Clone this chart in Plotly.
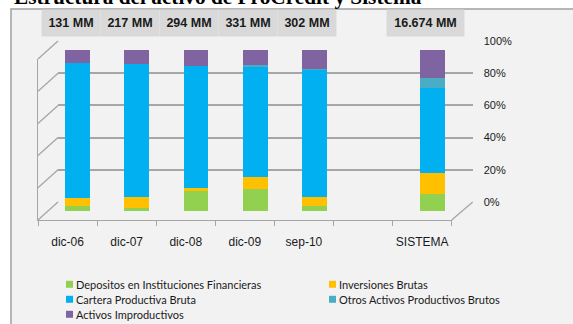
import plotly.graph_objects as go

W, H = 573, 324

categories = ["dic-06", "dic-07", "dic-08", "dic-09", "sep-10", " ", "SISTEMA"]
totals = ["131 MM", "217 MM", "294 MM", "331 MM", "302 MM", None, "16.674 MM"]

series_names = [
    "Depositos en Instituciones Financieras",
    "Inversiones Brutas",
    "Cartera Productiva Bruta",
    "Otros Activos Productivos Brutos",
    "Activos Improductivos",
]
series_colors = ["#92d050", "#ffc000", "#00b0f0", "#4bacc6", "#8064a2"]

depositos = [3.0, 2.0, 12.5, 13.6, 3.0, None, 10.5]
inversiones = [5.0, 7.0, 1.7, 7.8, 6.0, None, 13.0]
cartera = [84.0, 82.0, 76.0, 68.6, 79.0, None, 53.0]
otros = [0.0, 0.0, 0.0, 0.5, 0.5, None, 6.0]
improductivos = [8.0, 9.0, 9.8, 9.5, 11.5, None, 17.5]
series_values = [depositos, inversiones, cartera, otros, improductivos]

y_ticks = [0, 20, 40, 60, 80, 100]
y_ticktext = ["0%", "20%", "40%", "60%", "80%", "100%"]


def X(px):
    return px / W


def Y(py):
    return 1 - py / H


GRID = "#a6a6a6"
FONT = "Liberation Sans"
TXT = "#1a1a1a"

fig = go.Figure()

# back wall subplot (gridlines + right labels)
fig.add_trace(go.Scatter(x=[0.5], y=[0], mode="markers", marker=dict(opacity=0),
                         hoverinfo="skip", showlegend=False, xaxis="x", yaxis="y"))
# front plane subplot (floor line, category labels)
fig.add_trace(go.Scatter(x=categories, y=[0] * len(categories), mode="markers",
                         marker=dict(opacity=0), hoverinfo="skip", showlegend=False,
                         xaxis="x2", yaxis="y2"))
# bars (middle plane)
for name, color, vals in zip(series_names, series_colors, series_values):
    fig.add_trace(go.Bar(x=categories, y=vals, name=name, marker_color=color,
                         marker_line_width=0, width=0.42, showlegend=False,
                         xaxis="x3", yaxis="y3"))

shapes = []
# frame
shapes.append(dict(type="rect", xref="paper", yref="paper", x0=X(11), y0=Y(9), x1=1.02, y1=-0.02,
                   fillcolor="#f2f2f2", line=dict(color="#a0a0a0", width=1.5), layer="below"))
# left wall connectors
for v in y_ticks:
    yf = 220 - v / 100 * 161
    yb = 202 - v / 100 * 161
    shapes.append(dict(type="line", xref="paper", yref="paper", x0=X(38), y0=Y(yf), x1=X(58), y1=Y(yb),
                       line=dict(color=GRID, width=1.3), layer="below"))
# right floor diagonal
shapes.append(dict(type="line", xref="paper", yref="paper", x0=X(451.7), y0=Y(220), x1=X(472.7), y1=Y(202),
                   line=dict(color=GRID, width=1.3), layer="below"))

annotations = []
# title (cut off at top)
annotations.append(dict(text="<b>Estructura del activo de ProCredit y Sistema</b>", xref="paper", yref="paper",
                        x=X(12), y=Y(-3.3), xanchor="left", yanchor="middle", showarrow=False,
                        font=dict(family="Liberation Serif", size=21.3, color="#000000")))
# total labels in gray boxes
for cat, txt in zip(categories, totals):
    if txt is None:
        continue
    w = 77 if len(txt) > 6 else 58
    annotations.append(dict(text="<b>" + txt + "</b>", xref="x2", yref="paper", x=cat, y=Y(23),
                            xshift=3, yanchor="middle", showarrow=False, bgcolor="#d9d9d9",
                            width=w, height=26, borderpad=0,
                            font=dict(family=FONT, size=12.5, color=TXT)))
# custom legend
for i, (name, color) in enumerate(zip(series_names, series_colors)):
    col, row = i % 2, i // 2
    sx = [66, 329][col]
    sy = 284.3 + row * 15
    shapes.append(dict(type="rect", xref="paper", yref="paper", x0=X(sx), x1=X(sx + 7),
                       y0=Y(sy - 3.5), y1=Y(sy + 3.5), fillcolor=color, line=dict(width=0)))
    annotations.append(dict(text=name, xref="paper", yref="paper", x=X(sx + 8), y=Y(sy),
                            xanchor="left", yanchor="middle", showarrow=False,
                            font=dict(family="Lato", size=11, color=TXT)))

fig.update_layout(
    width=W, height=H,
    margin=dict(l=0, r=0, t=0, b=0),
    paper_bgcolor="#ffffff",
    plot_bgcolor="rgba(0,0,0,0)",
    barmode="stack",
    showlegend=False,
    shapes=shapes,
    annotations=annotations,
    xaxis=dict(domain=[X(58), X(472.7)], range=[0, 1], visible=False, anchor="y"),
    yaxis=dict(domain=[Y(202), Y(41)], range=[0, 100], tickvals=y_ticks, ticktext=y_ticktext,
               showgrid=True, gridcolor=GRID, gridwidth=1.5, zeroline=False, showline=False,
               side="right", anchor="x", ticks="", ticklabelstandoff=10,
               tickfont=dict(family=FONT, size=11, color=TXT), automargin=False),
    xaxis2=dict(domain=[X(38), X(451.7)], type="category", categoryorder="array",
                categoryarray=categories, range=[-0.5, len(categories) - 0.5], tickangle=0,
                showline=True, linecolor=GRID, linewidth=1.3, ticks="outside", tickson="boundaries",
                ticklen=5, tickcolor=GRID, tickwidth=1.3, showgrid=False, anchor="y2",
                ticklabelstandoff=10, tickfont=dict(family=FONT, size=12, color=TXT),
                automargin=False),
    yaxis2=dict(domain=[Y(220), Y(59)], range=[0, 100], showline=True, linecolor=GRID, linewidth=1.3,
                showgrid=False, zeroline=False, showticklabels=False, ticks="", anchor="x2",
                automargin=False),
    xaxis3=dict(domain=[X(48), X(462.2)], type="category", categoryorder="array",
                categoryarray=categories, range=[-0.5, len(categories) - 0.5], visible=False,
                anchor="y3"),
    yaxis3=dict(domain=[Y(211), Y(50)], range=[0, 100], visible=False, anchor="x3"),
)

fig.write_html("out.html")
